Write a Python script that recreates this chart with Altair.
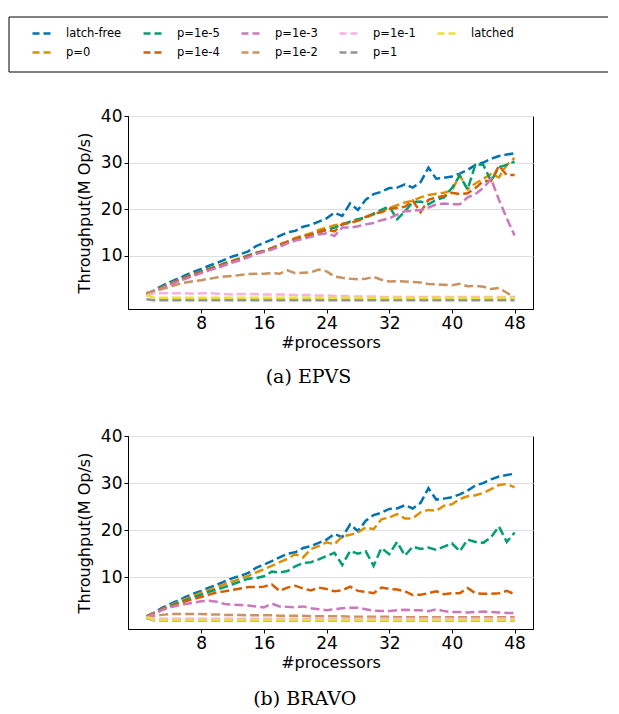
import altair as alt
import pandas as pd

procs = list(range(1, 49))

series_names = ["latch-free", "p=0", "p=1e-5", "p=1e-4", "p=1e-3", "p=1e-2", "p=1e-1", "p=1", "latched"]
series_colors = ["#0173b2", "#de8f05", "#029e73", "#d55e00", "#cc78bc", "#ca9161", "#fbafe4", "#949494", "#ece133"]

latch_free = [1.7, 2.5, 3.5, 4.3, 5.0, 5.8, 6.5, 7.1, 7.8, 8.4, 9.1, 9.8, 10.3, 10.9, 12.0, 12.7,
              13.4, 14.2, 15.0, 15.3, 16.2, 16.6, 17.3, 18.0, 19.2, 18.5, 21.2, 19.8, 22.0, 23.2, 23.7, 24.5,
              24.6, 25.3, 24.6, 25.8, 28.9, 26.5, 26.7, 27.0, 27.6, 28.4, 29.5, 30.0, 30.8, 31.4, 31.7, 32.0]

# (a) EPVS
epvs = {
    "latch-free": latch_free,
    "p=0": [1.7, 2.4, 3.2, 4.0, 4.7, 5.4, 6.0, 6.6, 7.2, 7.7, 8.4, 8.9, 9.5, 10.0, 10.5, 11.0,
            11.6, 12.4, 13.0, 13.8, 14.3, 14.8, 15.5, 16.0, 16.5, 16.8, 17.2, 17.5, 18.2, 18.8, 19.5, 20.2,
            20.8, 21.4, 21.8, 22.5, 23.0, 23.3, 23.5, 24.0, 27.3, 24.2, 25.5, 26.5, 27.5, 26.8, 29.5, 31.0],
    "p=1e-5": [1.7, 2.4, 3.2, 3.9, 4.6, 5.3, 5.9, 6.5, 7.1, 7.6, 8.3, 8.8, 9.3, 10.0, 10.6, 11.0,
               11.6, 12.2, 12.8, 13.5, 14.0, 14.5, 15.0, 15.5, 16.0, 16.6, 17.3, 17.8, 18.2, 19.0, 19.8, 20.6,
               17.8, 19.5, 21.5, 21.6, 21.0, 22.0, 22.5, 24.5, 27.2, 24.2, 29.6, 29.5, 26.0, 29.0, 29.5, 30.2],
    "p=1e-4": [1.6, 2.3, 3.1, 3.8, 4.5, 5.2, 5.8, 6.4, 7.0, 7.5, 8.2, 8.7, 9.2, 9.9, 10.5, 10.9,
               11.5, 12.3, 13.0, 13.6, 14.0, 14.5, 15.0, 15.6, 15.2, 16.8, 17.0, 17.5, 18.3, 19.0, 19.3, 20.0,
               20.2, 20.5, 21.8, 19.3, 22.0, 22.5, 22.8, 23.5, 23.2, 23.4, 24.5, 26.0, 26.0, 29.3, 27.3, 27.3],
    "p=1e-3": [1.5, 2.2, 3.0, 3.7, 4.4, 5.0, 5.6, 6.2, 6.8, 7.3, 7.9, 8.5, 9.0, 9.6, 10.3, 10.8,
               11.3, 11.9, 12.6, 13.2, 13.6, 14.0, 14.5, 14.8, 14.2, 16.0, 16.0, 16.3, 16.7, 17.0, 17.6, 18.0,
               18.8, 19.5, 19.6, 19.8, 20.3, 21.0, 21.2, 21.0, 21.0, 22.5, 23.2, 24.5, 26.5, 22.0, 18.0, 14.3],
    "p=1e-2": [2.0, 2.3, 2.8, 3.3, 3.8, 4.2, 4.5, 4.7, 5.0, 5.3, 5.5, 5.6, 5.8, 6.0, 6.1, 6.1,
               6.2, 6.1, 6.8, 6.2, 6.3, 6.4, 7.0, 6.6, 5.5, 5.2, 5.0, 4.9, 5.0, 5.4, 4.8, 4.4,
               4.5, 4.4, 4.3, 4.2, 3.9, 3.8, 3.7, 3.6, 3.9, 3.4, 3.5, 3.3, 2.8, 3.0, 2.0, 1.0],
    "p=1e-1": [1.3, 1.9, 1.9, 1.9, 1.9, 1.9, 1.8, 1.9, 1.9, 1.8, 1.7, 1.6, 1.7, 1.7, 1.7, 1.6,
               1.6, 1.6, 1.6, 1.5, 1.5, 1.5, 1.4, 1.4, 1.3, 1.3, 1.2, 1.2, 1.2, 1.2, 1.1, 1.1,
               1.1, 1.1, 1.1, 1.1, 1.1, 1.1, 1.1, 1.1, 1.1, 1.1, 1.1, 1.1, 1.1, 1.1, 1.1, 1.1],
    "p=1": [0.6, 0.4, 0.4, 0.4, 0.4, 0.4, 0.4, 0.4, 0.4, 0.4, 0.4, 0.4, 0.4, 0.4, 0.4, 0.4,
            0.4, 0.4, 0.4, 0.4, 0.4, 0.4, 0.4, 0.4, 0.4, 0.4, 0.4, 0.4, 0.4, 0.4, 0.4, 0.4,
            0.4, 0.4, 0.4, 0.4, 0.4, 0.4, 0.4, 0.4, 0.4, 0.4, 0.4, 0.4, 0.4, 0.4, 0.4, 0.4],
    "latched": [1.5, 0.9, 0.9, 0.9, 0.9, 0.9, 0.9, 0.9, 0.9, 0.9, 0.9, 0.9, 0.9, 0.9, 0.9, 0.9,
                0.9, 0.9, 0.9, 0.9, 0.9, 0.9, 0.9, 0.9, 0.9, 0.9, 0.9, 0.9, 0.9, 0.9, 0.9, 0.9,
                0.9, 0.9, 0.9, 0.9, 0.9, 0.9, 0.9, 0.9, 0.9, 0.9, 0.9, 0.9, 0.9, 0.9, 0.9, 0.9],
}

# (b) BRAVO
bravo = {
    "latch-free": latch_free,
    "p=0": [1.7, 2.4, 3.2, 4.0, 4.7, 5.4, 6.0, 6.7, 7.3, 7.9, 8.5, 9.1, 9.7, 10.3, 11.0, 11.7,
            12.4, 13.2, 13.9, 14.9, 14.2, 16.0, 16.6, 17.4, 17.0, 18.7, 19.0, 19.5, 20.6, 20.2, 22.3, 22.7,
            23.4, 22.5, 22.5, 23.8, 24.3, 24.1, 25.2, 25.5, 26.6, 27.2, 27.4, 27.9, 28.7, 29.6, 29.8, 29.1],
    "p=1e-5": [1.7, 2.4, 3.1, 3.8, 4.5, 5.1, 5.7, 6.3, 6.9, 7.4, 7.9, 8.5, 9.1, 9.7, 9.8, 10.2,
               11.2, 11.0, 11.3, 12.3, 13.0, 13.2, 13.8, 14.5, 15.2, 12.6, 15.6, 15.0, 15.5, 12.4, 16.2, 14.9,
               17.5, 14.6, 16.5, 16.0, 16.3, 15.8, 16.5, 17.2, 15.5, 18.0, 17.5, 17.3, 18.5, 20.8, 17.5, 19.5],
    "p=1e-4": [1.7, 2.4, 3.1, 3.7, 4.3, 4.9, 5.4, 5.8, 6.3, 6.8, 7.0, 7.3, 7.6, 7.9, 7.9, 8.0,
               8.5, 7.1, 7.8, 8.2, 7.6, 7.2, 7.8, 7.5, 7.0, 7.2, 8.0, 7.1, 6.9, 6.6, 7.8, 7.5,
               7.4, 7.0, 6.2, 6.3, 6.6, 7.0, 6.4, 6.6, 6.6, 7.7, 6.6, 6.5, 6.5, 6.6, 7.1, 6.4],
    "p=1e-3": [1.5, 2.3, 3.0, 3.6, 4.0, 4.3, 4.6, 4.9, 5.0, 4.8, 4.3, 4.2, 4.1, 4.0, 3.8, 3.6,
               4.4, 3.8, 3.7, 3.6, 3.8, 3.4, 3.2, 3.0, 3.2, 3.4, 3.5, 3.5, 3.2, 2.9, 2.8, 2.8,
               3.0, 3.1, 3.0, 3.0, 2.8, 3.2, 2.8, 2.6, 2.6, 2.5, 2.6, 2.7, 2.6, 2.5, 2.4, 2.4],
    "p=1e-2": [1.5, 1.8, 2.0, 2.2, 2.2, 2.2, 2.2, 2.2, 2.1, 2.1, 2.0, 2.0, 2.0, 1.9, 1.9, 1.9,
               1.9, 1.8, 1.8, 1.8, 1.8, 1.7, 1.7, 1.7, 1.7, 1.7, 1.6, 1.6, 1.6, 1.6, 1.6, 1.6,
               1.5, 1.5, 1.5, 1.5, 1.5, 1.5, 1.5, 1.5, 1.5, 1.5, 1.5, 1.5, 1.5, 1.5, 1.5, 1.5],
    "p=1e-1": [1.5, 1.2, 1.2, 1.2, 1.2, 1.2, 1.2, 1.2, 1.2, 1.2, 1.2, 1.2, 1.2, 1.2, 1.2, 1.2,
               1.2, 1.2, 1.2, 1.2, 1.2, 1.2, 1.2, 1.2, 1.2, 1.2, 1.2, 1.2, 1.2, 1.2, 1.2, 1.2,
               1.2, 1.2, 1.2, 1.2, 1.2, 1.2, 1.2, 1.2, 1.2, 1.2, 1.2, 1.2, 1.2, 1.2, 1.2, 1.2],
    "p=1": [1.3, 0.8, 0.8, 0.8, 0.8, 0.8, 0.8, 0.8, 0.8, 0.8, 0.8, 0.8, 0.8, 0.8, 0.8, 0.8,
            0.8, 0.8, 0.8, 0.8, 0.8, 0.8, 0.8, 0.8, 0.8, 0.8, 0.8, 0.8, 0.8, 0.8, 0.8, 0.8,
            0.8, 0.8, 0.8, 0.8, 0.8, 0.8, 0.8, 0.8, 0.8, 0.8, 0.8, 0.8, 0.8, 0.8, 0.8, 0.8],
    "latched": [1.5, 0.9, 0.9, 0.9, 0.9, 0.9, 0.9, 0.9, 0.9, 0.9, 0.9, 0.9, 0.9, 0.9, 0.9, 0.9,
                0.9, 0.9, 0.9, 0.9, 0.9, 0.9, 0.9, 0.9, 0.9, 0.9, 0.9, 0.9, 0.9, 0.9, 0.9, 0.9,
                0.9, 0.9, 0.9, 0.9, 0.9, 0.9, 0.9, 0.9, 0.9, 0.9, 0.9, 0.9, 0.9, 0.9, 0.9, 0.9],
}

x_ticks = [8, 16, 24, 32, 40, 48]
y_ticks = [10, 20, 30, 40]


def to_frame(d):
    rows = []
    for order, name in enumerate(series_names):
        for x, y in zip(procs, d[name]):
            rows.append({"procs": x, "tput": y, "series": name, "order": order})
    return pd.DataFrame(rows)


def panel(d, caption, ydom, with_legend, cap_offset):
    df = to_frame(d)
    if with_legend:
        legend = alt.Legend(
            title=None, orient="none", legendX=-97, legendY=-95, columns=5,
            direction="vertical", columnPadding=16, rowPadding=1,
            symbolType="stroke", symbolSize=484,
            symbolStrokeWidth=2.5, symbolDash=[7, 4], labelFont="DejaVu Sans",
            labelFontSize=11.5, labelColor="black", labelOffset=10, padding=0,
        )
    else:
        legend = None
    lines = alt.Chart(df).mark_line(strokeWidth=2.5, strokeDash=[9, 4]).encode(
        x=alt.X("procs:Q", title="#processors",
                scale=alt.Scale(domain=[-1.35, 50.35], nice=False, zero=False),
                axis=alt.Axis(values=x_ticks, grid=False)),
        y=alt.Y("tput:Q", title="Throughput(M Op/s)",
                scale=alt.Scale(domain=ydom, nice=False, zero=False),
                axis=alt.Axis(values=y_ticks, grid=True)),
        color=alt.Color("series:N",
                        scale=alt.Scale(domain=series_names, range=series_colors),
                        legend=legend),
        detail="series:N",
        order="order:Q",
    )
    layers = [lines]
    if with_legend:
        one = pd.DataFrame({"k": [0]})
        top = alt.Chart(one).mark_rule(color="black", strokeWidth=1).encode(
            x=alt.value(-119), x2=alt.value(480), y=alt.value(-99))
        bot = alt.Chart(one).mark_rule(color="black", strokeWidth=1).encode(
            x=alt.value(-119), x2=alt.value(480), y=alt.value(-44))
        left = alt.Chart(one).mark_rule(color="black", strokeWidth=1).encode(
            x=alt.value(-119), y=alt.value(-99), y2=alt.value(-44))
        layers += [top, bot, left]
    return alt.layer(*layers).properties(
        width=405, height=193,
        title=alt.TitleParams(caption, orient="bottom", anchor="middle", frame="bounds",
                              font="DejaVu Serif", fontSize=19, fontWeight="normal",
                              color="black", offset=cap_offset),
    )


chart = alt.vconcat(
    panel(epvs, "(a) EPVS", [-1.5, 40], True, 18),
    panel(bravo, "(b) BRAVO", [-1.0, 40], False, 20),
    spacing=38,
).resolve_scale(color="independent").properties(
    padding={"left": 0, "top": 8, "right": 0, "bottom": 0},
).configure_view(
    stroke="black", strokeWidth=1,
).configure_axis(
    domainColor="black", tickColor="black", tickSize=4, labelFont="DejaVu Sans",
    labelFontSize=17, labelColor="black", titleFont="DejaVu Sans", titleFontSize=16,
    titleFontWeight="normal", titleColor="black", gridColor="#dedede", gridWidth=1,
    labelPadding=2,
).configure_axisX(titlePadding=3).configure_axisY(titlePadding=8)

chart.save("out.html", embed_options={"renderer": "svg", "actions": False})
